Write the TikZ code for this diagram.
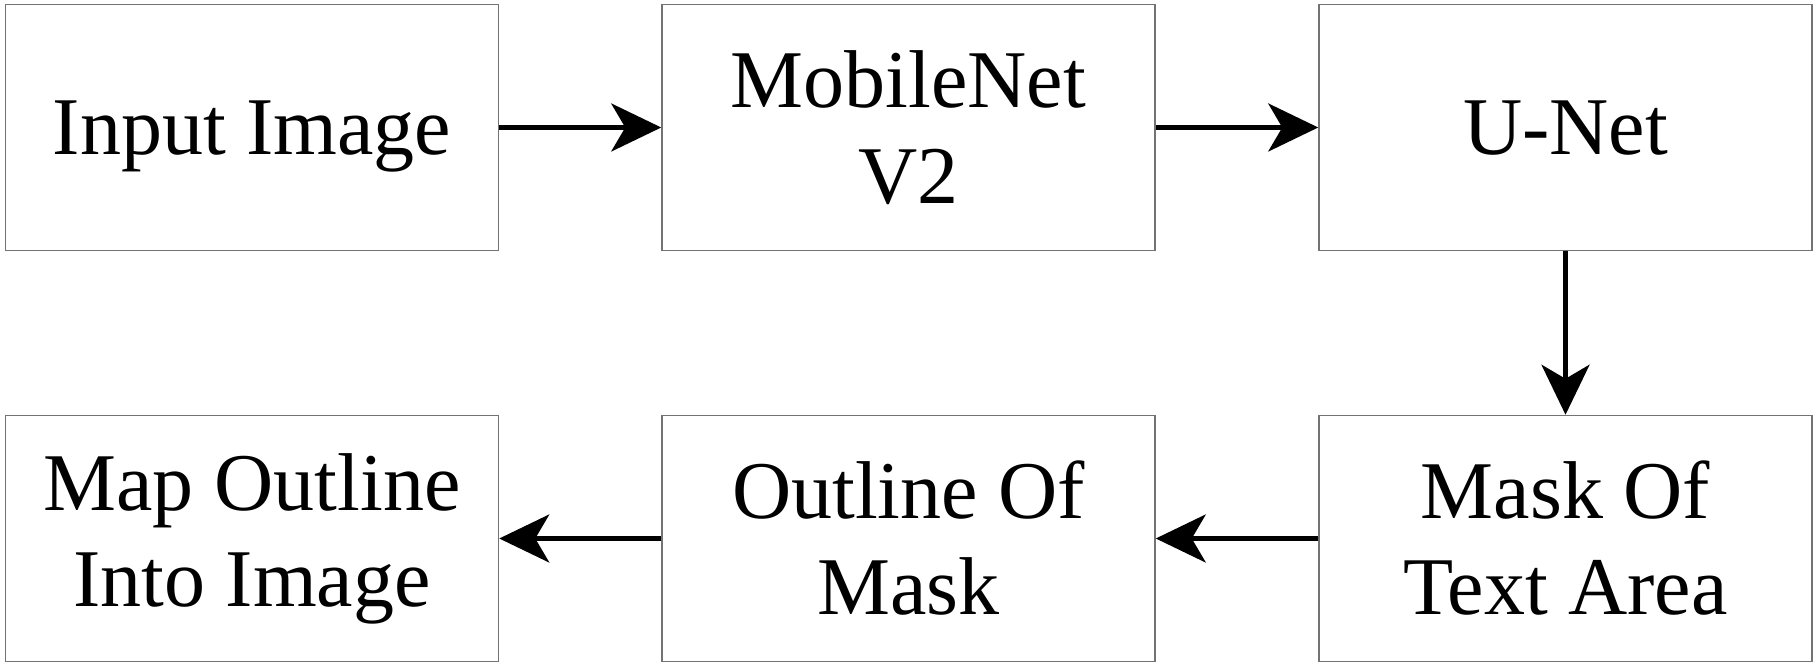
\documentclass[tikz,border=0pt]{standalone}
\usepackage{fontspec}
\setmainfont{Liberation Serif}
\usetikzlibrary{arrows.meta}
\begin{document}
\begin{tikzpicture}[x=1pt,y=1pt,
  blockbox/.style={draw=black!55, line width=1.5pt, minimum width=493pt, minimum height=246pt, inner sep=0pt, align=center, font=\fontsize{82}{96}\selectfont},
  oneline/.style={text depth=0pt},
  flowarrow/.style={line width=4.2pt, -{Stealth[length=50pt,width=48pt,inset=14pt]}}]
\useasboundingbox (0,0) rectangle (1818,667);
\node[blockbox,oneline] (in) at (252,539.5) {Input Image};
\node[blockbox] (mob) at (908.5,539.5) {MobileNet\\V2};
\node[blockbox,oneline] (unet) at (1565.5,539.5) {U-Net};
\node[blockbox] (mask) at (1565.5,128.5) {Mask Of\\Text Area};
\node[blockbox] (outl) at (908.5,128.5) {Outline Of\\Mask};
\node[blockbox] (map) at (252,128.5) {Map Outline\\Into Image};
\draw[flowarrow] (in) -- (mob);
\draw[flowarrow] (mob) -- (unet);
\draw[flowarrow] (unet) -- (mask);
\draw[flowarrow] (mask) -- (outl);
\draw[flowarrow] (outl) -- (map);
\end{tikzpicture}
\end{document}
